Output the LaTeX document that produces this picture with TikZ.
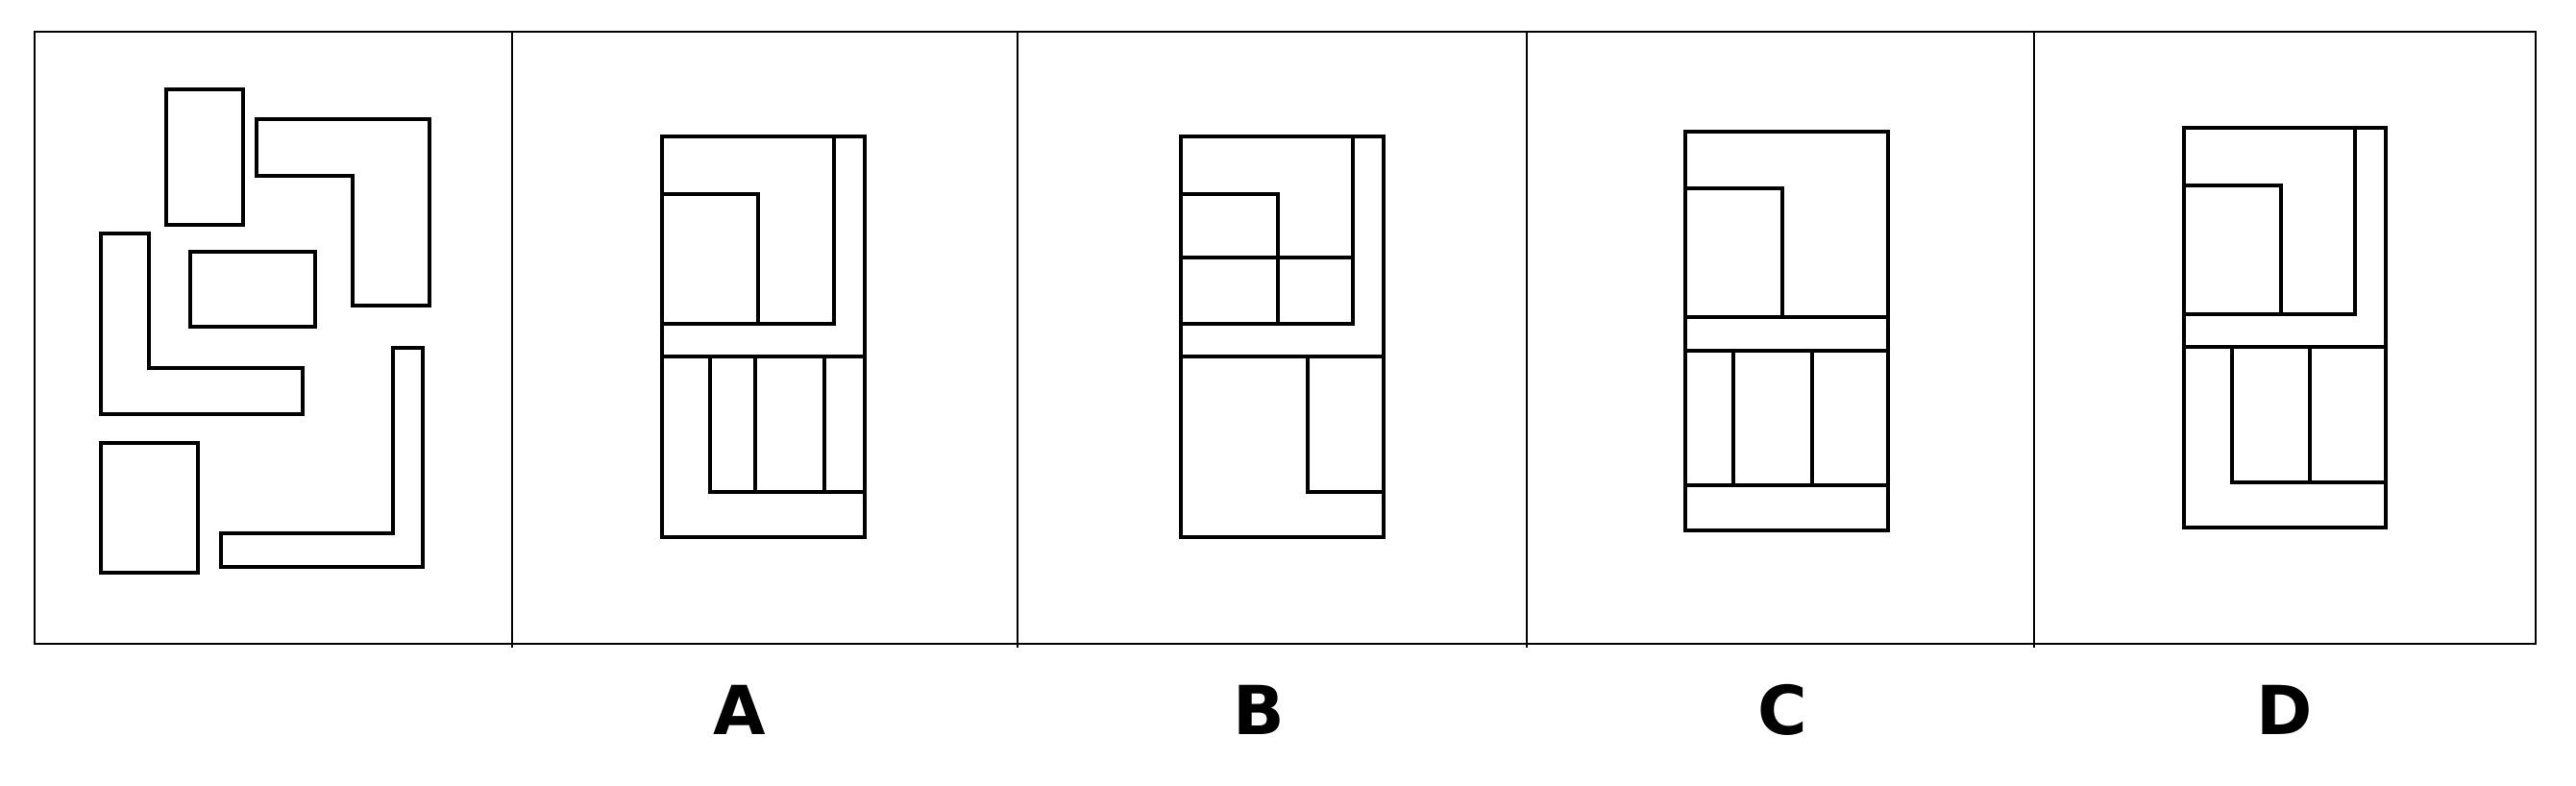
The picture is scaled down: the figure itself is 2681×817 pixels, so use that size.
\documentclass[tikz,border=0pt]{standalone}
\usepackage{fontspec}
\newfontfamily\labfont{DejaVu Sans}
\usepackage{tikz}
\usetikzlibrary{positioning}

\begin{document}
\begin{tikzpicture}[x=0.01cm,y=-0.01cm,line join=miter,
					  frame line/.style={line width=0.8pt},
					  piece/.style={line width=1.1pt},
					  choice label/.style={font=\labfont\bfseries\fontsize{20}{24}\selectfont,inner sep=0pt}]

					  \useasboundingbox (0,0) rectangle (2681,817);

					  \draw[frame line] (36,33) rectangle (2639,670);
					  \foreach \xdiv in {533,1059,1589,2117}
					    \draw[frame line] (\xdiv,33) -- (\xdiv,674);

					  \draw[piece] (173,93) rectangle (253,234);
					  \draw[piece] (267,124) -- (447,124) -- (447,318) -- (367,318) -- (367,183) -- (267,183) -- cycle;
					  \draw[piece] (198,262) rectangle (328,340);
					  \draw[piece] (105,243) -- (155,243) -- (155,383) -- (315,383) -- (315,431) -- (105,431) -- cycle;
					  \draw[piece] (105,461) rectangle (206,596);
					  \draw[piece] (409,362) -- (440,362) -- (440,590) -- (230,590) -- (230,555) -- (409,555) -- cycle;

					  \draw[piece] (689,142) rectangle (900,559);
					  \draw[piece] (868,142) -- (868,337) -- (689,337);
					  \draw[piece] (689,202) -- (789,202) -- (789,337);
					  \draw[piece] (689,371) -- (900,371);
					  \draw[piece] (739,371) -- (739,512) -- (900,512);
					  \draw[piece] (786,371) -- (786,512);
					  \draw[piece] (858,371) -- (858,512);

					  \draw[piece] (1229,142) rectangle (1440,559);
					  \draw[piece] (1408,142) -- (1408,337) -- (1229,337);
					  \draw[piece] (1229,202) -- (1330,202) -- (1330,337);
					  \draw[piece] (1229,268) -- (1408,268);
					  \draw[piece] (1229,371) -- (1440,371);
					  \draw[piece] (1361,371) -- (1361,512) -- (1440,512);

					  \draw[piece] (1754,137) rectangle (1965,552);
					  \draw[piece] (1754,196) -- (1855,196) -- (1855,330);
					  \draw[piece] (1754,330) -- (1965,330);
					  \draw[piece] (1754,365) -- (1965,365);
					  \draw[piece] (1754,505) -- (1965,505);
					  \draw[piece] (1804,365) -- (1804,505);
					  \draw[piece] (1886,365) -- (1886,505);

					  \draw[piece] (2273,133) rectangle (2483,549);
					  \draw[piece] (2451,133) -- (2451,327) -- (2273,327);
					  \draw[piece] (2273,193) -- (2374,193) -- (2374,327);
					  \draw[piece] (2273,361) -- (2483,361);
					  \draw[piece] (2323,361) -- (2323,502) -- (2483,502);
					  \draw[piece] (2404,361) -- (2404,502);

					  \node[choice label] (labA) at (770,739) {A};
					  \node[choice label] (labB) at (1310,739) {B};
					  \node[choice label] (labC) at (1855,739) {C};
					  \node[choice label] (labD) at (2378,739) {D};
					\end{tikzpicture}
\end{document}
